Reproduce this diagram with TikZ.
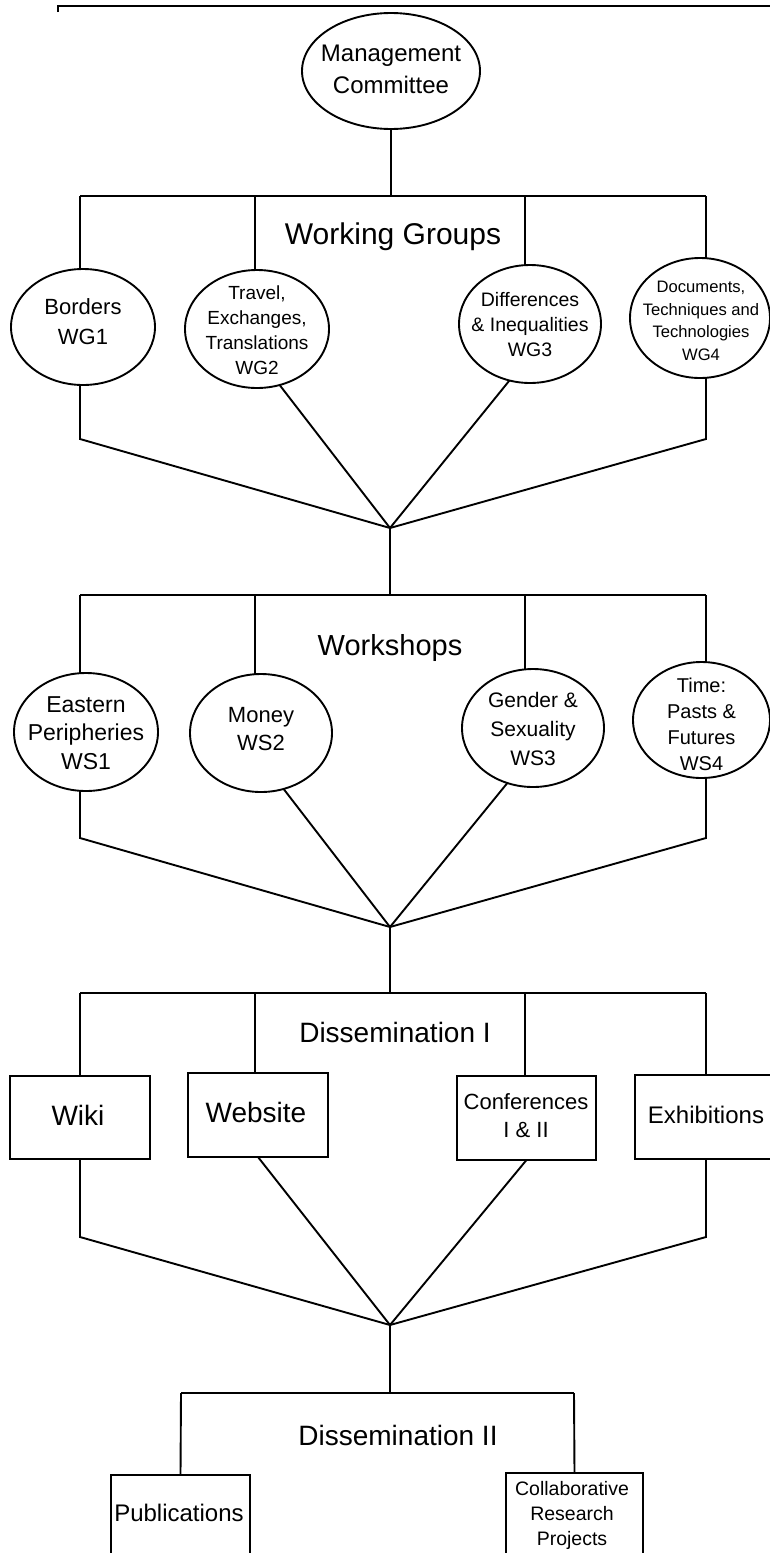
\documentclass[tikz,border=0pt]{standalone}
\usepackage{fontspec}
\setmainfont{Liberation Sans}
\usetikzlibrary{shapes.geometric}
\tikzset{
  ln/.style={line width=1.9pt, line join=miter},
  ell/.style={draw, ellipse, line width=1.9pt, inner sep=0pt, outer sep=0pt},
  boxn/.style={draw, rectangle, line width=1.9pt, inner sep=0pt, outer sep=0pt},
  txt/.style={align=center, inner sep=0pt},
  head/.style={inner sep=0pt, font=\fontsize{29}{34}\selectfont},
}
\newcommand{\fsz}[2]{\fontsize{#1}{#2}\selectfont}
\begin{document}
\begin{tikzpicture}[x=1pt,y=-1pt]
\clip (0,0) rectangle (770,1553);
% top rule
\coordinate (tr0) at (58,12);
\coordinate (tr1) at (58,6);
\coordinate (tr2) at (772,6);
\draw[line width=2.6pt] (tr0) -- (tr1) -- (tr2);

% ---------- Management Committee ----------
\node[ell, minimum width=178pt, minimum height=116pt] (mc) at (391,71) {};
\node[txt, font=\fsz{24}{32}] (mct) at (391,69) {Management\\Committee};

% ---------- Working groups ----------
\coordinate (a1) at (80,196);
\coordinate (a2) at (255,196);
\coordinate (am) at (391,196);
\coordinate (a3) at (525,196);
\coordinate (a4) at (706,196);
\draw[ln] (mc.south) -- (am);
\draw[ln] (a1) -- (a4);
\node[head, font=\fsz{30}{34}] (wgh) at (393,237) {Working Groups};

\node[ell, minimum width=144pt, minimum height=116pt] (wg1) at (83,327) {};
\node[ell, minimum width=144pt, minimum height=118pt] (wg2) at (257,329) {};
\node[ell, minimum width=142pt, minimum height=118pt] (wg3) at (530,324) {};
\node[ell, minimum width=140pt, minimum height=120pt] (wg4) at (700,318) {};
\node[txt, font=\fsz{22}{30}] (wg1t) at (83,322) {Borders\\WG1};
\node[txt, font=\fsz{19}{25}] (wg2t) at (257,330) {Travel,\\Exchanges,\\Translations\\WG2};
\node[txt, font=\fsz{19.5}{25}] (wg3t) at (530,325) {Differences\\\&\ Inequalities\\WG3};
\node[txt, font=\fsz{16.6}{22.5}] (wg4t) at (701,321) {Documents,\\Techniques and\\Technologies\\WG4};

\draw[ln] (a1) -- (a1 |- wg1.north);
\draw[ln] (a2) -- (a2 |- wg2.north);
\draw[ln] (a3) -- (a3 |- wg3.north);
\draw[ln] (a4) -- (a4 |- wg4.north);

\coordinate (c1) at (390,528);
\coordinate (k1) at (80,439);
\coordinate (k4) at (706,439);
\draw[ln] (k1 |- wg1.south) -- (k1) -- (c1);
\draw[ln] (wg2.-68) -- (c1);
\draw[ln] (wg3.-110) -- (c1);
\draw[ln] (k4 |- wg4.south) -- (k4) -- (c1);

% ---------- Workshops ----------
\coordinate (b1) at (80,595);
\coordinate (b2) at (255,595);
\coordinate (bm) at (390,595);
\coordinate (b3) at (525,595);
\coordinate (b4) at (706,595);
\draw[ln] (c1) -- (bm);
\draw[ln] (b1) -- (b4);
\node[head] (wsh) at (390,648) {Workshops};

\node[ell, minimum width=144pt, minimum height=118pt] (ws1) at (86,732) {};
\node[ell, minimum width=142pt, minimum height=118pt] (ws2) at (261,733) {};
\node[ell, minimum width=142pt, minimum height=118pt] (ws3) at (533,728) {};
\node[ell, minimum width=137pt, minimum height=116pt] (ws4) at (701.5,720) {};
\node[txt, font=\fsz{23}{28.5}] (ws1t) at (86,733) {Eastern\\Peripheries\\WS1};
\node[txt, font=\fsz{22}{28}] (ws2t) at (261,729) {Money\\WS2};
\node[txt, font=\fsz{21}{29}] (ws3t) at (533,729) {Gender \&\\Sexuality\\WS3};
\node[txt, font=\fsz{20}{26}] (ws4t) at (701.5,724) {Time:\\Pasts \&\\Futures\\WS4};

\draw[ln] (b1) -- (b1 |- ws1.north);
\draw[ln] (b2) -- (b2 |- ws2.north);
\draw[ln] (b3) -- (b3 |- ws3.north);
\draw[ln] (b4) -- (b4 |- ws4.north);

\coordinate (c2) at (390,927);
\coordinate (m1) at (80,838);
\coordinate (m4) at (706,838);
\draw[ln] (m1 |- ws1.south) -- (m1) -- (c2);
\draw[ln] (ws2.-68) -- (c2);
\draw[ln] (ws3.-115) -- (c2);
\draw[ln] (m4 |- ws4.south) -- (m4) -- (c2);

% ---------- Dissemination I ----------
\coordinate (d1) at (80,993);
\coordinate (d2) at (255,993);
\coordinate (dm) at (390,993);
\coordinate (d3) at (525,993);
\coordinate (d4) at (706,993);
\draw[ln] (c2) -- (dm);
\draw[ln] (d1) -- (d4);
\node[head, font=\fsz{28}{34}] (d1h) at (395,1032) {Dissemination I};

\node[boxn, minimum width=140pt, minimum height=83pt] (wiki) at (80,1117.5) {};
\node[boxn, minimum width=140pt, minimum height=84pt] (web) at (258,1115) {};
\node[boxn, minimum width=139pt, minimum height=84pt] (conf) at (526.5,1118) {};
\node[boxn, minimum width=141pt, minimum height=84pt] (exh) at (705.5,1117) {};
\node[txt, font=\fsz{28}{32}] (wikit) at (78,1115) {Wiki};
\node[txt, font=\fsz{28}{32}] (webt) at (256,1112) {Website};
\node[txt, font=\fsz{22}{28}] (conft) at (526,1116) {Conferences\\I \& II};
\node[txt, font=\fsz{24}{30}] (exht) at (706,1115) {Exhibitions};

\draw[ln] (d1) -- (wiki.north);
\draw[ln] (d2) -- (d2 |- web.north);
\draw[ln] (d3) -- (d3 |- conf.north);
\draw[ln] (d4) -- (d4 |- exh.north);

\coordinate (c3) at (390,1325);
\coordinate (n1) at (80,1237);
\coordinate (n4) at (706,1237);
\draw[ln] (wiki.south) -- (n1) -- (c3);
\draw[ln] (web.south) -- (c3);
\draw[ln] (conf.south) -- (c3);
\draw[ln] (n4 |- exh.south) -- (n4) -- (c3);

% ---------- Dissemination II ----------
\coordinate (e1) at (181,1393);
\coordinate (em) at (390,1393);
\coordinate (e2) at (574,1393);
\draw[ln] (c3) -- (em);
\draw[ln] (e1) -- (e2);
\node[head, font=\fsz{28}{34}] (d2h) at (398,1435) {Dissemination II};

\node[boxn, minimum width=139pt, minimum height=125pt] (pub) at (180.5,1537.5) {};
\node[boxn, minimum width=137pt, minimum height=127pt] (col) at (574.5,1536.5) {};
\node[txt, font=\fsz{24}{30}] (pubt) at (179,1513) {Publications};
\node[txt, font=\fsz{19.5}{25}] (colt) at (572,1515) {Collaborative\\Research\\Projects};

\draw[ln] (e1) -- (pub.north);
\draw[ln] (e2) -- (col.north);
\end{tikzpicture}
\end{document}
